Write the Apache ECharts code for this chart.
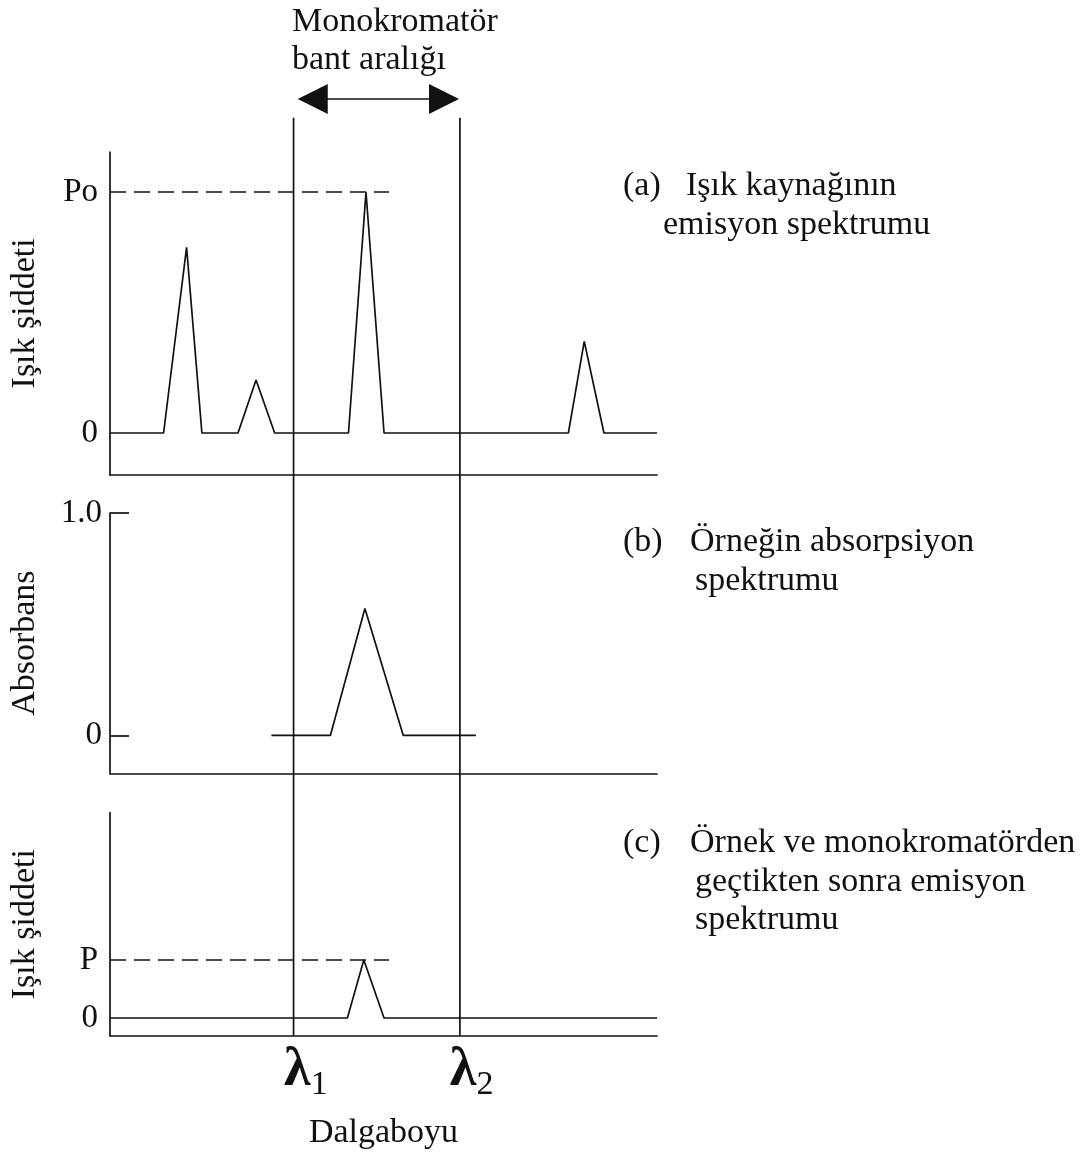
<!DOCTYPE html>
<html>
<head>
<meta charset="utf-8">
<script src="https://cdn.jsdelivr.net/npm/echarts@6/dist/echarts.min.js"></script>
<style>
  html, body { margin: 0; background: #fff; }
  #chart { width: 1090px; height: 1152px; }
</style>
</head>
<body>
<div id="chart"></div>
<script>
// wavelength axis: arbitrary units 0..100 shared by all three panels
const lambda1 = 33.8;
const lambda2 = 64.1;
const bandArrow = [37.3, 61.2]; // shaft ends (heads reach out to λ1..λ2)
const lambdaTop = 0.98;          // overlay units, where the λ lines stop

// (a) source emission, intensity relative to Po
const emissionX = [0, 9.8, 14.0, 16.8, 23.4, 26.7, 30.1, 43.6, 46.8, 50.1, 83.8, 86.7, 90.3, 100];
const emissionY = [0, 0, 0.77, 0, 0, 0.22, 0, 0, 1.0, 0, 0, 0.38, 0, 0];

// (b) sample absorbance
const absorbX = [29.5, 40.3, 46.6, 53.6, 66.9];
const absorbY = [0, 0, 0.57, 0, 0];

// (c) after sample + monochromator, relative to P
const transmX = [0, 43.4, 46.4, 50.1, 100];
const transmY = [0, 0, 1.0, 0, 0];

const refLineEnd = 51.0; // Po / P dashed guide ends here

const tickValuesA = [0, 1];   const tickLabelsA = ['0', 'Po'];
const tickValuesB = [0, 1];   const tickLabelsB = ['0', '1.0'];
const tickValuesC = [0, 1];   const tickLabelsC = ['0', 'P'];

const yNames = ['Işık şiddeti', 'Absorbans', 'Işık şiddeti'];
const xName = 'Dalgaboyu';
const bandTitle = ['Monokromatör', 'bant aralığı'];
const notes = [
  ['(a)', 'Işık kaynağının', 'emisyon spektrumu'],
  ['(b)', 'Örneğin absorpsiyon', 'spektrumu'],
  ['(c)', 'Örnek ve monokromatörden', 'geçtikten sonra emisyon', 'spektrumu']
];

const FONT = '"Liberation Serif", "Times New Roman", serif';
const INK = '#111';
const LW = 1.7;

const pairs = (xs, ys) => xs.map((x, i) => [x, ys[i]]);

const chart = echarts.init(document.getElementById('chart'));

const axisLine = { show: true, onZero: false, lineStyle: { color: INK, width: LW } };

function makeY(idx, min, max, vals, labels, name, opts) {
  return Object.assign({
    type: 'value', gridIndex: idx, min, max,
    name, nameLocation: 'middle', nameGap: 68,
    nameTextStyle: { fontFamily: FONT, fontSize: 34, color: INK },
    axisLine, splitLine: { show: false },
    axisTick: { show: false },
    axisLabel: {
      customValues: vals,
      formatter: (v) => labels[vals.indexOf(v)] ?? '',
      fontFamily: FONT, fontSize: 33, color: INK, margin: 12
    }
  }, opts || {});
}

function makeX(idx, opts) {
  return Object.assign({
    type: 'value', gridIndex: idx, min: 0, max: 100,
    axisLine, splitLine: { show: false },
    axisTick: { show: false }, axisLabel: { show: false }
  }, opts || {});
}

const lineStyle = { color: INK, width: LW };
const dashStyle = { color: INK, width: LW, type: [16, 8] };

function trace(idx, data, style) {
  return {
    type: 'line', xAxisIndex: idx, yAxisIndex: idx, data,
    symbol: 'none', lineStyle: style || lineStyle, silent: true, animation: false
  };
}

const graphic = [];
const textStyle = (text) => ({ text, font: '34px ' + FONT, fill: INK, verticalAlign: 'middle' });
graphic.push({ type: 'text', x: 292, y: 22, style: textStyle(bandTitle[0]) });
graphic.push({ type: 'text', x: 292, y: 60, style: textStyle(bandTitle[1]) });

const notePos = [
  { y: [186, 225], x: [623, 686, 663] },
  { y: [542, 581], x: [623, 690, 695] },
  { y: [843, 882, 920], x: [623, 690, 695, 695] }
];
notes.forEach((n, k) => {
  const p = notePos[k];
  graphic.push({ type: 'text', x: p.x[0], y: p.y[0], style: textStyle(n[0]) });
  graphic.push({ type: 'text', x: p.x[1], y: p.y[0], style: textStyle(n[1]) });
  for (let j = 2; j < n.length; j++) {
    graphic.push({ type: 'text', x: p.x[j], y: p.y[j - 1], style: textStyle(n[j]) });
  }
});

const option = {
  backgroundColor: '#fff',
  animation: false,
  grid: [
    { left: 108, right: 433, top: 152, height: 322.7 },
    { left: 108, right: 433, top: 513, height: 260.3 },
    { left: 108, right: 433, top: 812.7, height: 223 },
    { left: 108, right: 433, top: 99, height: 936.7 }
  ],
  xAxis: [
    makeX(0),
    makeX(1),
    makeX(2, {
      name: xName, nameLocation: 'middle', nameGap: 80,
      nameTextStyle: { fontFamily: FONT, fontSize: 34, color: INK },
      axisLabel: {
        show: true,
        customValues: [lambda1, lambda2],
        formatter: (v) => '{l|λ}{s|' + (v === lambda1 ? 1 : 2) + '}',
        margin: 4,
        padding: [0, 0, 0, 22],
        rich: {
          l: { fontFamily: FONT, fontSize: 54, fontWeight: 'bold', color: INK },
          s: { fontFamily: FONT, fontSize: 34, color: INK, padding: [28, 0, 0, 0] }
        }
      }
    }),
    makeX(3, { show: false })
  ],
  yAxis: [
    makeY(0, -0.173, 1.166, tickValuesA, tickLabelsA, yNames[0]),
    makeY(1, -0.171, 1.0, tickValuesB, tickLabelsB, yNames[1], {
      axisTick: { show: true, inside: true, length: 19, customValues: tickValuesB,
                  lineStyle: { color: INK, width: LW } },
      axisLabel: {
        customValues: tickValuesB,
        formatter: (v) => tickLabelsB[tickValuesB.indexOf(v)] ?? '',
        fontFamily: FONT, fontSize: 33, color: INK, margin: 8
      }
    }),
    makeY(2, -0.305, 3.54, tickValuesC, tickLabelsC, yNames[2]),
    { type: 'value', gridIndex: 3, min: 0, max: 1, show: false }
  ],
  series: [
    trace(0, pairs(emissionX, emissionY)),
    trace(0, [[0, 1], [refLineEnd, 1]], dashStyle),
    trace(1, pairs(absorbX, absorbY)),
    trace(2, pairs(transmX, transmY)),
    trace(2, [[0, 1], [refLineEnd, 1]], dashStyle),
    trace(3, [[lambda1, 0], [lambda1, lambdaTop]]),
    Object.assign(trace(3, [[lambda2, 0], [lambda2, lambdaTop]]), {
      markLine: {
        silent: true,
        symbol: ['triangle', 'triangle'],
        symbolSize: 30,
        label: { show: false },
        lineStyle: { color: INK, width: LW, type: 'solid' },
        emphasis: { disabled: true },
        data: [[{ coord: [bandArrow[0], 1] }, { coord: [bandArrow[1], 1] }]]
      }
    })
  ],
  graphic
};

chart.setOption(option);
</script>
</body>
</html>
